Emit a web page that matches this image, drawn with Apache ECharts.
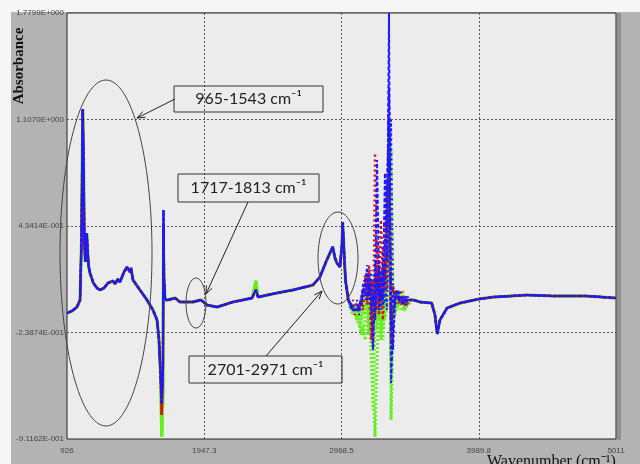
<!DOCTYPE html>
<html lang="en">
<head>
<meta charset="UTF-8">
<title>Absorbance spectra</title>
<script src="https://cdn.jsdelivr.net/npm/echarts@6/dist/echarts.min.js"></script>
<style>
  body { margin: 0; background: #fff; }
  #chart { width: 640px; height: 464px; }
</style>
</head>
<body>
<div id="chart"></div>
<script>
// axis ticks
var xTicks = [926, 1947.25, 2968.5, 3989.75, 5011];
var xTickLabels = ['926', '1947.3', '2968.5', '3989.8', '5011'];
var yTicks = [-0.91162, -0.23874, 0.43414, 1.1070, 1.7799];
var yTickLabels = ['-9.1162E-001', '-2.3874E-001', '4.3414E-001', '1.1070E+000', '1.7799E+000'];

// common part of all spectra
var wnBase = [926, 963, 1000, 1023, 1034, 1043, 1049, 1055, 1062, 1073, 1079, 1087, 1097, 1122, 1149, 1172,
  1201, 1231, 1268, 1283, 1305, 1320, 1350, 1372, 1395, 1402, 1417, 1469, 1521, 1566, 1596, 1610, 1622,
  1631, 1640, 1644, 1648, 1655, 1663, 1678, 1730, 1767, 1864, 1923, 1968, 2042, 2161, 2303, 2332, 2347,
  2489, 2608, 2756, 2808, 2853, 2883, 2903, 2920, 2935, 2957, 2972, 2977, 2987, 2998, 3019,
  3553, 3640, 3664, 3681, 3701, 3754, 3850, 3992, 4096, 4349, 4542, 4788, 5011];
var absBase = [-0.116, -0.103, -0.078, -0.034, 0.346, 1.17, 0.851, 0.346, 0.207, 0.390, 0.282, 0.181, 0.137, 0.074, 0.042, 0.030,
  0.042, 0.074, 0.087, 0.068, 0.099, 0.080, 0.143, 0.175, 0.143, 0.169, 0.093, 0.030, -0.033, -0.097, -0.160, -0.280, -0.500,
  -0.685, -0.450, 0.535, 0.100, -0.020, -0.033, -0.033, -0.021, -0.046, -0.046, -0.033, -0.065, -0.078, -0.046, -0.021, 0.030, -0.015,
  0.011, 0.030, 0.061, 0.112, 0.207, 0.264, 0.302, 0.232, 0.200, 0.175, 0.314, 0.459, 0.283, 0.093, -0.033,
  -0.046, -0.053, -0.128, -0.248, -0.160, -0.084, -0.053, -0.027, -0.015, -0.002, -0.008, -0.008, -0.021];

// where the green / red traces differ from the blue one
var greenFix = [[1631, -0.899], [1640, -0.62], [1644, 0.302], [2332, 0.087]];
var redFix = [[1631, -0.76], [1644, 0.45]];

// the noisy 3039-3501 cm-1 window
var wnWin = [3039, 3054, 3069, 3084, 3099, 3114, 3128, 3143, 3158, 3173, 3188, 3203, 3218, 3233, 3247, 3262,
  3277, 3292, 3307, 3322, 3337, 3352, 3367, 3381, 3396, 3411, 3426, 3441, 3456, 3471, 3486, 3501];
var green1 = [-0.065, -0.097, -0.128, -0.160, -0.191, -0.223, -0.255, -0.160, -0.033, -0.160, -0.223, -0.539, -0.899, -0.413, -0.033, 0.030,
  -0.097, -0.033, 0.409, 1.041, -0.792, -0.223, -0.033, -0.033, -0.065, -0.097, -0.097, -0.065, -0.065, -0.033, -0.033, -0.033];
var green2 = [-0.065, -0.097, -0.097, -0.128, -0.160, -0.255, -0.191, -0.286, -0.223, -0.097, -0.349, -0.728, -0.160, -0.002, -0.223, -0.033,
  -0.286, 0.061, 0.219, 0.914, -0.539, -0.097, -0.128, -0.065, -0.033, -0.033, -0.065, -0.097, -0.065, -0.033, -0.033, -0.033];
var green3 = [-0.065, -0.097, -0.097, -0.097, -0.128, -0.160, -0.097, -0.033, -0.002, -0.223, -0.033, -0.286, -0.033, 0.061, -0.160, -0.002,
  -0.223, -0.097, 0.093, 0.977, -0.413, -0.160, -0.097, -0.033, -0.065, -0.033, -0.033, -0.033, -0.033, -0.033, -0.033, -0.033];
var green4 = [-0.097, -0.128, -0.065, -0.160, -0.097, -0.191, -0.033, -0.128, 0.093, -0.255, 0.030, -0.160, 0.156, -0.223, 0.061, -0.286,
  0.125, -0.160, -0.033, 0.283, 0.914, -0.033, 0.030, -0.097, -0.002, -0.065, 0.030, -0.097, -0.033, -0.065, -0.033, -0.033];
var red1 = [-0.065, -0.097, -0.097, -0.097, -0.065, -0.065, -0.002, 0.030, 0.061, 0.030, 0.093, -0.330, 0.895, 0.030, 0.156, -0.033,
  0.283, 0.093, 0.598, 1.186, -0.223, 0.030, -0.002, 0.030, -0.033, -0.002, -0.033, -0.033, -0.065, -0.033, -0.033, -0.033];
var red2 = [-0.065, -0.097, -0.097, -0.097, -0.065, -0.033, 0.030, 0.061, 0.125, -0.033, -0.160, 0.030, -0.160, 0.346, -0.033, 0.472,
  0.061, 0.030, 0.409, 0.725, -0.033, -0.128, -0.033, -0.002, -0.033, -0.065, -0.033, -0.065, -0.033, -0.033, -0.033, -0.033];
var red3 = [-0.065, -0.097, -0.097, -0.065, -0.097, -0.033, -0.033, 0.093, -0.033, 0.156, -0.286, -0.033, 0.125, -0.097, 0.219, 0.030,
  -0.160, 0.219, 0.030, 0.851, -0.349, -0.033, 0.030, -0.033, -0.002, -0.033, -0.065, -0.033, -0.033, -0.033, -0.033, -0.033];
var red4 = [-0.065, -0.033, -0.128, -0.065, -0.097, -0.033, -0.097, 0.125, -0.065, 0.188, -0.097, 0.093, -0.033, 0.219, -0.128, 0.156,
  -0.033, 0.188, 0.725, 0.409, -0.160, 0.061, -0.033, 0.030, -0.065, 0.030, -0.033, -0.002, -0.065, -0.033, -0.033, -0.033];
var blue1 = [-0.065, -0.097, -0.097, -0.097, -0.097, -0.065, -0.002, 0.030, -0.033, 0.061, -0.033, -0.349, 0.030, 0.851, 0.093, -0.033,
  0.030, 0.769, 0.219, 1.780, -0.558, -0.223, -0.002, 0.030, -0.033, -0.033, -0.065, -0.033, -0.033, -0.033, -0.033, -0.033];
var blue2 = [-0.065, -0.097, -0.097, -0.097, -0.065, -0.065, 0.030, 0.061, 0.156, -0.002, 0.093, -0.033, -0.160, 0.156, -0.097, 0.093,
  -0.033, 0.346, 0.409, 1.312, 0.030, -0.349, -0.033, 0.017, -0.014, -0.033, -0.033, -0.065, -0.033, -0.033, -0.033, -0.033];
var blue3 = [-0.065, -0.097, -0.097, -0.097, -0.065, -0.033, 0.061, 0.093, 0.030, 0.125, -0.097, -0.002, -0.128, 0.093, -0.002, 0.156,
  -0.065, -0.033, 0.598, 1.104, -0.223, -0.002, -0.065, -0.033, -0.033, -0.033, -0.033, -0.033, -0.033, -0.033, -0.033, -0.033];
var blue4 = [-0.097, -0.065, -0.097, -0.033, -0.128, -0.065, -0.002, -0.033, 0.188, -0.033, 0.156, -0.065, 0.219, 0.030, 0.188, -0.097,
  0.219, 0.093, -0.097, 0.472, 1.104, 0.030, -0.002, -0.033, 0.030, -0.033, -0.002, -0.033, -0.002, -0.033, -0.033, -0.033];

var GREEN = '#66ee22', RED = '#dd1111', BLUE = '#1a1aff';

function buildTrace(win, fix) {
  var pts = [];
  var first = wnWin[0], last = wnWin[wnWin.length - 1];
  for (var i = 0; i < wnBase.length; i++) {
    if (wnBase[i] >= first) continue;
    var v = absBase[i];
    fix.forEach(function (f) { if (f[0] === wnBase[i]) v = f[1]; });
    pts.push([wnBase[i], v]);
  }
  wnWin.forEach(function (w, k) { pts.push([w, win[k]]); });
  for (var j = 0; j < wnBase.length; j++) {
    if (wnBase[j] > last) pts.push([wnBase[j], absBase[j]]);
  }
  return pts;
}

var traces = [
  { data: buildTrace(green1, greenFix), color: GREEN, dash: [2, 2], off: 0, w: 3 },
  { data: buildTrace(green2, greenFix), color: GREEN, dash: [2, 2], off: 1, w: 3 },
  { data: buildTrace(green3, greenFix), color: GREEN, dash: [2, 2], off: 2, w: 3 },
  { data: buildTrace(green4, greenFix), color: GREEN, dash: [2, 2], off: 3, w: 3 },
  { data: buildTrace(red1, redFix), color: RED, dash: [2, 3], off: 1, w: 2.4 },
  { data: buildTrace(red2, redFix), color: RED, dash: [2, 3], off: 3, w: 2.4 },
  { data: buildTrace(red3, redFix), color: RED, dash: [2, 3], off: 0, w: 2.4 },
  { data: buildTrace(red4, redFix), color: RED, dash: [2, 3], off: 2, w: 2.4 },
  { data: buildTrace(blue1, []), color: BLUE, dash: [4, 2], off: 0, w: 2 },
  { data: buildTrace(blue2, []), color: BLUE, dash: [3, 2], off: 2, w: 2 },
  { data: buildTrace(blue3, []), color: BLUE, dash: [3, 3], off: 1, w: 2 },
  { data: buildTrace(blue4, []), color: BLUE, dash: [2, 3], off: 3, w: 2 }
];

var series = traces.map(function (t, i) {
  var s = {
    type: 'line',
    data: t.data,
    showSymbol: false,
    silent: true,
    lineStyle: { color: t.color, width: t.w, type: t.dash, dashOffset: t.off }
  };
  if (i === 0) {
    s.markLine = {
      silent: true,
      z: 1,
      symbol: ['none', 'none'],
      label: { show: false },
      lineStyle: { color: '#555', width: 1, type: [2, 2] },
      data: xTicks.slice(1, 4).map(function (v) { return { xAxis: v }; })
        .concat(yTicks.slice(1, 4).map(function (v) { return { yAxis: v }; }))
    };
  }
  return s;
});

function pick(ticks, labels, v) {
  for (var i = 0; i < ticks.length; i++) {
    if (Math.abs(ticks[i] - v) < 1e-3) return labels[i];
  }
  return '';
}

function arrow(x1, y1, x2, y2) {
  var a = Math.atan2(y2 - y1, x2 - x1), L = 8, W = 3.2;
  var bx = x2 - L * Math.cos(a), by = y2 - L * Math.sin(a);
  return [
    { type: 'line', z: 100, shape: { x1: x1, y1: y1, x2: x2, y2: y2 }, style: { stroke: '#222', lineWidth: 1 } },
    { type: 'polyline', z: 100, shape: { points: [[bx - W * Math.sin(a), by + W * Math.cos(a)], [x2, y2], [bx + W * Math.sin(a), by - W * Math.cos(a)]] },
      style: { stroke: '#222', lineWidth: 1, fill: null } }
  ];
}

function ellipse(cx, cy, rx, ry) {
  return { type: 'ellipse', z: 100, shape: { cx: cx, cy: cy, rx: rx, ry: ry }, style: { stroke: '#444', lineWidth: 1, fill: null } };
}

function box(x, y, w, h, text) {
  return [
    { type: 'rect', z: 100, shape: { x: x, y: y, width: w, height: h }, style: { stroke: '#333', lineWidth: 1, fill: null } },
    { type: 'text', z: 101, x: x + w / 2, y: y + h / 2,
      style: { text: text, textAlign: 'center', textVerticalAlign: 'middle', fill: '#222', font: '16px Lato, "Open Sans", sans-serif' } }
  ];
}

var graphics = [
  { type: 'rect', z: -10, shape: { x: 0, y: 0, width: 11, height: 464 }, style: { fill: '#f6f6f6' } },
  { type: 'rect', z: -10, shape: { x: 0, y: 0, width: 640, height: 12 }, style: { fill: '#f6f6f6' } },
  { type: 'rect', z: -5, shape: { x: 617, y: 13, width: 4, height: 427 }, style: { fill: '#8f8f8f' } },
  { type: 'text', x: 19, y: 66, rotation: Math.PI / 2,
    style: { text: 'Absorbance', textAlign: 'center', textVerticalAlign: 'middle', fill: '#111',
      font: 'bold 15px "Liberation Serif", serif' } },
  { type: 'text', x: 487, y: 454,
    style: { text: 'Wavenumber (cm\u207B\u00B9)', textAlign: 'left', textVerticalAlign: 'top', fill: '#111',
      font: '16px "Liberation Serif", serif' } },
  ellipse(106, 253, 46, 173),
  ellipse(196, 303, 10, 25),
  ellipse(338, 258, 20, 46)
].concat(box(174, 86, 149, 26, '965-1543 cm\u207B\u00B9'))
 .concat(box(178, 174, 141, 28, '1717-1813 cm\u207B\u00B9'))
 .concat(box(189, 356, 153, 27, '2701-2971 cm\u207B\u00B9'))
 .concat(arrow(175, 99, 137, 118))
 .concat(arrow(248, 202, 206, 294))
 .concat(arrow(266, 356, 322, 291));

var chart = echarts.init(document.getElementById('chart'));
chart.setOption({
  animation: false,
  backgroundColor: '#b3b3b3',
  grid: {
    left: 67, right: 24, top: 13, bottom: 25,
    show: true, backgroundColor: '#ececec', borderColor: '#222', borderWidth: 1
  },
  xAxis: {
    type: 'value', min: 926, max: 5011,
    axisLine: { show: false }, axisTick: { show: false }, splitLine: { show: false },
    axisLabel: {
      customValues: xTicks, margin: 8, color: '#444', fontSize: 8,
      fontFamily: '"Liberation Sans", sans-serif',
      formatter: function (v) { return pick(xTicks, xTickLabels, v); }
    }
  },
  yAxis: {
    type: 'value', min: -0.91162, max: 1.7799,
    axisLine: { show: false }, axisTick: { show: false }, splitLine: { show: false },
    axisLabel: {
      customValues: yTicks, margin: 3, color: '#444', fontSize: 8,
      fontFamily: '"Liberation Sans", sans-serif',
      formatter: function (v) { return pick(yTicks, yTickLabels, v); }
    }
  },
  series: series,
  graphic: graphics
});
</script>
</body>
</html>
